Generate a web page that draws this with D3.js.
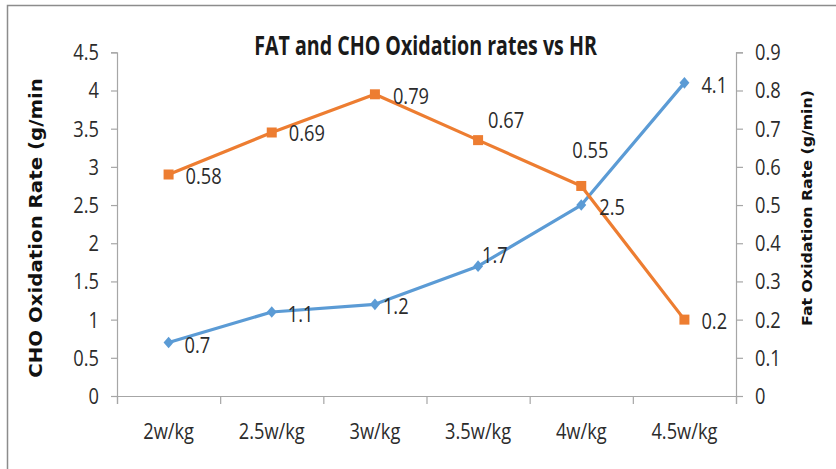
<!DOCTYPE html>
<html><head><meta charset="utf-8">
<script src="https://cdn.jsdelivr.net/npm/d3@7"></script>
<style>body{margin:0;background:#fff}svg{display:block}</style>
</head><body>
<svg id="c" width="836" height="469"></svg>
<script>
const categories = ["2w/kg","2.5w/kg","3w/kg","3.5w/kg","4w/kg","4.5w/kg"];
const choValues = [0.7,1.1,1.2,1.7,2.5,4.1];
const fatValues = [0.58,0.69,0.79,0.67,0.55,0.2];
const leftTicks = [0,0.5,1,1.5,2,2.5,3,3.5,4,4.5];
const rightTicks = [0,0.1,0.2,0.3,0.4,0.5,0.6,0.7,0.8,0.9];
const titleText = "FAT and CHO Oxidation rates vs HR";
const leftTitle = "CHO Oxidation Rate (g/min";
const rightTitle = "Fat Oxidation Rate (g/min)";

// layout (label offsets relative to point, in px)
const choLabelOff = [[16,10],[16,10],[8,10],[4,-3],[18,10],[17,10]];
const fatLabelOff = [[17,9],[17,9],[18,10],[10,-12],[-9,-28],[17,9]];

const svg = d3.select("#c");
const L = 117, R = 736, T = 52.3, B = 396;
const SX = 0.83, FS = 22, FONT = "'Open Sans', sans-serif", TXT = "#2b2b2b";

svg.append("rect").attr("x",7.5).attr("y",5.5).attr("width",840).attr("height",470)
  .attr("fill","none").attr("stroke","#8c8c8c").attr("stroke-width",1.5);

const x = d3.scaleBand().domain(categories).range([L,R]).padding(0);
const yL = d3.scaleLinear().domain([0,4.5]).range([B,T]);
const yR = d3.scaleLinear().domain([0,0.9]).range([B,T]);
const cx = d => x(d) + x.bandwidth()/2;

function txt(g, s, px, py, anchor, size, weight){
  return g.append("text").text(s)
    .attr("transform",`translate(${px},${py}) scale(${SX},1)`)
    .attr("text-anchor",anchor||"start")
    .attr("font-family",FONT).attr("font-size",size||FS)
    .attr("font-weight",weight||400).attr("fill",TXT);
}

// axes
const axG = svg.append("g");
const leftAxis = axG.append("g").attr("transform",`translate(${L},0)`)
  .call(d3.axisLeft(yL).tickValues(leftTicks).tickSize(6).tickFormat(""));
const rightAxis = axG.append("g").attr("transform",`translate(${R},0)`)
  .call(d3.axisRight(yR).tickValues(rightTicks).tickSize(7).tickFormat(""));
const bounds = categories.map(c=>x(c)).concat([R]);
const bottomAxis = axG.append("g").attr("transform",`translate(0,${B})`)
  .call(d3.axisBottom(d3.scaleLinear().domain([L,R]).range([L,R])).tickValues(bounds).tickSize(8).tickFormat(""));
axG.selectAll("path.domain").attr("stroke","#a6a6a6").attr("stroke-width",1.2);
axG.selectAll(".tick line").attr("stroke","#a6a6a6").attr("stroke-width",1.2);

const tl = svg.append("g");
leftTicks.forEach(v=>txt(tl, String(v), 99, yL(v)+8, "end"));
rightTicks.forEach(v=>txt(tl, String(v), 755, yR(v)+8, "start"));
categories.forEach(c=>txt(tl, c, cx(c), 439, "middle"));

// lines
const blue = "#5b9bd5", orange = "#ed7d31";
svg.append("path").datum(choValues)
  .attr("d", d3.line().x((d,i)=>cx(categories[i])).y(d=>yL(d)))
  .attr("fill","none").attr("stroke",blue).attr("stroke-width",3.2).attr("stroke-linejoin","round");
svg.append("path").datum(fatValues)
  .attr("d", d3.line().x((d,i)=>cx(categories[i])).y(d=>yR(d)))
  .attr("fill","none").attr("stroke",orange).attr("stroke-width",3.2).attr("stroke-linejoin","round");

svg.selectAll("path.dm").data(choValues).enter().append("path").attr("class","dm")
  .attr("d","M0,-5.8L5,0L0,5.8L-5,0Z")
  .attr("transform",(d,i)=>`translate(${cx(categories[i])},${yL(d)})`).attr("fill",blue);
svg.selectAll("rect.sq").data(fatValues).enter().append("rect").attr("class","sq")
  .attr("x",(d,i)=>cx(categories[i])-5).attr("y",d=>yR(d)-5)
  .attr("width",10).attr("height",10).attr("fill",orange);

const lab = svg.append("g");
choValues.forEach((v,i)=>txt(lab, String(v), cx(categories[i])+choLabelOff[i][0], yL(v)+choLabelOff[i][1], "start"));
fatValues.forEach((v,i)=>txt(lab, String(v), cx(categories[i])+fatLabelOff[i][0], yR(v)+fatLabelOff[i][1], "start"));

// title
const t = svg.append("text").text(titleText)
  .attr("font-family",FONT).attr("font-size",26).attr("font-weight",700).attr("fill","#1a1a1a")
  .attr("text-anchor","middle");
const tw = t.node().getComputedTextLength();
t.attr("transform",`translate(425.5,55) scale(${343/tw},1)`);

// axis titles
function vt(s, px, py, size, len){
  const e = svg.append("text").text(s)
    .attr("font-family","'DejaVu Sans', sans-serif").attr("font-size",size).attr("font-weight",700)
    .attr("fill","#111").attr("text-anchor","middle");
  const w = e.node().getComputedTextLength();
  e.attr("transform",`translate(${px},${py}) rotate(-90) scale(${len/w},1)`);
}
vt(leftTitle, 42, 228, 18, 300);
vt(rightTitle, 812, 208, 13.3, 236);
</script>
</body></html>
